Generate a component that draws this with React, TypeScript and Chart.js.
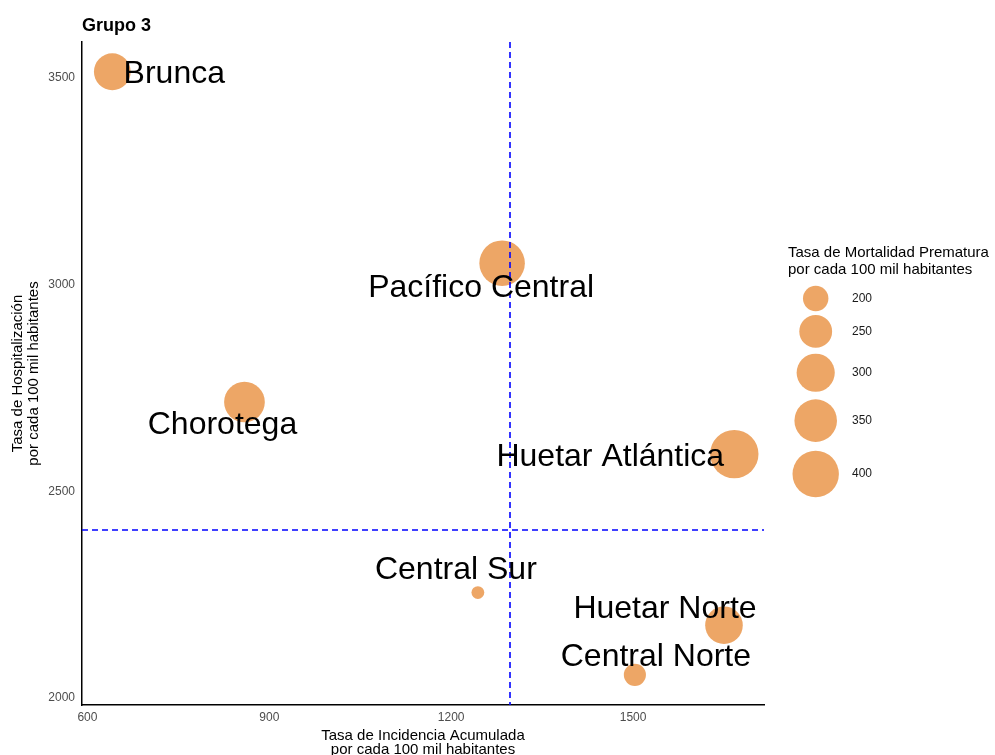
import { useEffect, useRef } from "react";
import { Chart, registerables } from "chart.js";

Chart.register(...registerables);

// ---- Data ----
const regions = ["Brunca", "Pacífico Central", "Chorotega", "Huetar Atlántica", "Central Sur", "Huetar Norte", "Central Norte"];
const incidence = [641, 1284, 859, 1667, 1244, 1650, 1503];
const hospitalization = [3515, 3052, 2716, 2590, 2255, 2176, 2056];
const mortality = [286, 388, 328, 429, 167, 294, 185];
const xTicks = [600, 900, 1200, 1500];
const yTicks = [2000, 2500, 3000, 3500];
const legendValues = [200, 250, 300, 350, 400];
const refIncidence = 1297;
const refHospitalization = 2406;
// repelled label offsets (px) from each point
const labelOffsets = [[62, 0], [-21, 22], [-22, 21], [-124, 0], [-22, -25], [-59, -19], [21, -20]];

const FONT = "'Liberation Sans', Arial, Helvetica, sans-serif";
const POINT_COLOR = "rgb(237,166,102)";
const R_MIN = 6.4;
const R_MAX = 24.2;
const vMin = Math.min(...mortality);
const vMax = Math.max(...mortality);
const radius = (v: number) => R_MIN + (R_MAX - R_MIN) * Math.sqrt(Math.max(0, v - vMin) / (vMax - vMin));

const overlay = {
  id: "overlay",
  afterDatasetsDraw(chart: any) {
    const { ctx, chartArea, scales } = chart;
    const xs = scales.x;
    const ys = scales.y;
    ctx.save();
    // reference lines
    ctx.strokeStyle = "#0000ff";
    ctx.lineWidth = 1.6;
    ctx.setLineDash([6, 4]);
    const vx = Math.round(xs.getPixelForValue(refIncidence));
    ctx.beginPath();
    ctx.moveTo(vx, chartArea.top);
    ctx.lineTo(vx, chartArea.bottom);
    ctx.stroke();
    const hy = Math.round(ys.getPixelForValue(refHospitalization));
    ctx.beginPath();
    ctx.moveTo(chartArea.left, hy);
    ctx.lineTo(chartArea.right, hy);
    ctx.stroke();
    ctx.setLineDash([]);
    // labels
    const fs = 32;
    ctx.font = `${fs}px ${FONT}`;
    ctx.fillStyle = "#000";
    ctx.textAlign = "center";
    ctx.textBaseline = "alphabetic";
    regions.forEach((name, i) => {
      const px = xs.getPixelForValue(incidence[i]) + labelOffsets[i][0];
      const py = ys.getPixelForValue(hospitalization[i]) + labelOffsets[i][1];
      ctx.fillText(name, px, py + 0.358 * fs);
    });
    ctx.restore();
  },
  afterDraw(chart: any) {
    const { ctx, chartArea } = chart;
    ctx.save();
    // title
    ctx.fillStyle = "#000";
    ctx.font = `bold 18px ${FONT}`;
    ctx.textAlign = "left";
    ctx.textBaseline = "alphabetic";
    ctx.fillText("Grupo 3", 82, 31);
    // x axis title
    ctx.font = `15px ${FONT}`;
    ctx.textAlign = "center";
    ctx.textBaseline = "middle";
    const cx = (chartArea.left + chartArea.right) / 2;
    ctx.fillText("Tasa de Incidencia Acumulada", cx, 736);
    ctx.fillText("por cada 100 mil habitantes", cx, 750);
    // y axis title
    const cy = (chartArea.top + chartArea.bottom) / 2;
    ctx.save();
    ctx.translate(18, cy);
    ctx.rotate(-Math.PI / 2);
    ctx.fillText("Tasa de Hospitalización", 0, 0);
    ctx.restore();
    ctx.save();
    ctx.translate(34, cy);
    ctx.rotate(-Math.PI / 2);
    ctx.fillText("por cada 100 mil habitantes", 0, 0);
    ctx.restore();
    // legend
    ctx.textAlign = "left";
    ctx.fillText("Tasa de Mortalidad Prematura", 788, 253);
    ctx.fillText("por cada 100 mil habitantes", 788, 270);
    let top = 284.6;
    ctx.font = `12px ${FONT}`;
    legendValues.forEach((v) => {
      const r = radius(v);
      const h = 2.68 * r - 6.2;
      const yc = top + h / 2;
      ctx.fillStyle = POINT_COLOR;
      ctx.beginPath();
      ctx.arc(815.7, yc, r, 0, Math.PI * 2);
      ctx.fill();
      ctx.fillStyle = "#1a1a1a";
      ctx.fillText(String(v), 852, yc);
      top += h;
    });
    ctx.restore();
  },
};

export default function App() {
  const ref = useRef<HTMLCanvasElement>(null);
  useEffect(() => {
    if (!ref.current) return;
    const tickFont = { family: FONT, size: 12 };
    const chart = new Chart(ref.current, {
      type: "bubble",
      data: {
        datasets: [
          {
            data: regions.map((_, i) => ({ x: incidence[i], y: hospitalization[i], r: radius(mortality[i]) })),
            backgroundColor: POINT_COLOR,
            borderWidth: 0,
            hoverRadius: 0,
            hoverBorderWidth: 0,
          },
        ],
      },
      options: {
        responsive: false,
        animation: false,
        events: [],
        layout: { padding: { left: 0, top: 42, right: 231, bottom: 0 } },
        plugins: { legend: { display: false }, tooltip: { enabled: false } },
        scales: {
          x: {
            type: "linear",
            min: 591,
            max: 1716,
            afterBuildTicks: (s: any) => {
              s.ticks = xTicks.map((v) => ({ value: v }));
            },
            afterFit: (s: any) => {
              s.height = 50;
            },
            ticks: {
              font: tickFont,
              color: "#4d4d4d",
              padding: 5,
              maxRotation: 0,
              autoSkip: false,
              callback: (v: any) => String(v),
            },
            grid: { display: false, drawTicks: false },
            border: { display: true, color: "#000", width: 1.5 },
          },
          y: {
            type: "linear",
            min: 1983,
            max: 3587,
            afterBuildTicks: (s: any) => {
              s.ticks = yTicks.map((v) => ({ value: v }));
            },
            afterFit: (s: any) => {
              s.width = 82;
            },
            ticks: {
              font: tickFont,
              color: "#4d4d4d",
              padding: 7,
              autoSkip: false,
              callback: (v: any) => String(v),
            },
            grid: { display: false, drawTicks: false },
            border: { display: true, color: "#000", width: 1.5 },
          },
        },
      },
      plugins: [overlay],
    });
    return () => chart.destroy();
  }, []);
  return (
    <div style={{ position: "fixed", left: 0, top: 0, width: 995, height: 755, background: "#fff" }}>
      <canvas ref={ref} width={995} height={755} style={{ width: 995, height: 755, display: "block" }} />
    </div>
  );
}
